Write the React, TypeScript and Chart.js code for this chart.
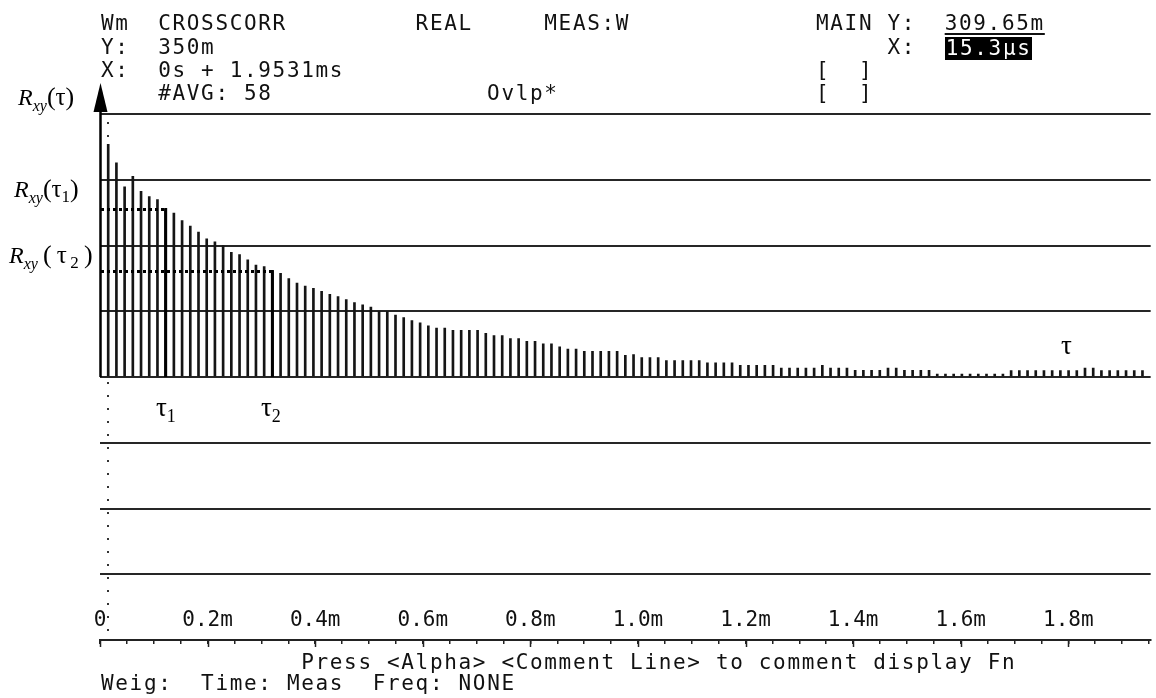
import React, { useEffect, useRef } from "react";
import { Chart, registerables } from "chart.js";

Chart.register(...registerables);

// ---------------- data ----------------
// Record: 0s + 1.9531ms, 128 lags -> 15.3 µs per lag
const RECORD_MS = 1.9531;
const LAGS_PER_RECORD = 128;
const LAG_MS = RECORD_MS / LAGS_PER_RECORD;

// Cross-correlation Rxy(τ) in milli-units, for lags 1..127
const RXY = [
  309.65, 285, 253, 267, 247, 240, 236, 223, 218, 208,
  201, 193, 184, 180, 175, 166, 163, 156, 149, 147,
  141, 138, 131, 125, 121, 118, 114, 110, 107, 103,
  99, 96, 93, 87, 87, 82.5, 79, 75, 72, 68,
  65, 65, 62, 62, 62, 62, 58, 55, 55, 51,
  51, 47.5, 47.5, 44, 44, 40, 37, 37, 34, 34,
  34, 34, 34, 29, 30, 26, 26, 26, 22, 22,
  22, 22, 22, 19, 19, 19, 19, 15.5, 15.5, 15.5,
  15.5, 15.5, 12, 12, 12, 12, 12, 15.5, 12, 12,
  12, 9, 9, 9, 9, 12, 12, 9, 9, 9,
  9, 4, 4, 4, 4, 4, 4, 4, 4, 4,
  8.5, 8.5, 8.5, 8.5, 8.5, 8.5, 8.5, 8.5, 8.5, 12,
  12, 8.5, 8.5, 8.5, 8.5, 8.5, 8.5,
];
const LAGS = RXY.map((_, i) => i + 1);

const CURSOR_LAG = 1; // MAIN X: 15.3µs
const TAU1_LAG = 8;
const TAU2_LAG = 21;

const X_TICKS = [0, 0.2, 0.4, 0.6, 0.8, 1.0, 1.2, 1.4, 1.6, 1.8];
const X_TICK_LABELS = ["0", "0.2m", "0.4m", "0.6m", "0.8m", "1.0m", "1.2m", "1.4m", "1.6m", "1.8m"];
const X_MINOR_STEP = 0.05;
const Y_MIN = -350;
const Y_MAX = 350;
const Y_STEP = 87.5;

// ---------------- styling ----------------
const HP_FONT = '"DejaVu Sans Mono", monospace';
const HP_SIZE = 21;
const CELL = 14.3;
const COL0 = 101;
const INK = "#111";

const overlayPlugin = {
  id: "overlay",
  beforeDatasetsDraw(chart: any) {
    const { ctx, chartArea, scales } = chart;
    const x = scales.x;
    const cx = Math.round(x.getPixelForValue(CURSOR_LAG * LAG_MS));
    ctx.save();
    ctx.strokeStyle = "#333";
    ctx.lineWidth = 2;
    ctx.setLineDash([2, 11]);
    ctx.beginPath();
    ctx.moveTo(cx, chartArea.top + 8);
    ctx.lineTo(cx, chartArea.bottom - 6);
    ctx.stroke();
    ctx.restore();
  },
  afterDatasetsDraw(chart: any) {
    const { ctx, chartArea, scales } = chart;
    const x = scales.x;
    const y = scales.y;
    const x0 = x.getPixelForValue(0);
    const y0 = y.getPixelForValue(0);
    ctx.save();
    ctx.fillStyle = "#000";
    ctx.strokeStyle = "#000";

    // τ markers: dotted level line + thick bar
    [TAU1_LAG, TAU2_LAG].forEach((lag) => {
      const px = x.getPixelForValue(lag * LAG_MS);
      const py = Math.round(y.getPixelForValue(RXY[lag - 1])) + 0.5;
      ctx.lineWidth = 3;
      ctx.setLineDash([3, 3]);
      ctx.beginPath();
      ctx.moveTo(x0 + 1, py);
      ctx.lineTo(px, py);
      ctx.stroke();
      ctx.setLineDash([]);
      ctx.beginPath();
      ctx.moveTo(px, py - 1.5);
      ctx.lineTo(px, y0);
      ctx.stroke();
    });

    // vertical axis with arrow
    ctx.setLineDash([]);
    ctx.lineWidth = 2.5;
    ctx.beginPath();
    ctx.moveTo(x0 + 0.5, y0);
    ctx.lineTo(x0 + 0.5, chartArea.top - 4);
    ctx.stroke();
    ctx.beginPath();
    ctx.moveTo(x0 + 0.5, chartArea.top - 31);
    ctx.lineTo(x0 - 6.5, chartArea.top - 2);
    ctx.lineTo(x0 + 7.5, chartArea.top - 2);
    ctx.closePath();
    ctx.fill();

    // longer major ticks on the ruler
    ctx.lineWidth = 1.5;
    ctx.strokeStyle = "#222";
    X_TICKS.forEach((v) => {
      const px = Math.round(x.getPixelForValue(v)) + 0.5;
      ctx.beginPath();
      ctx.moveTo(px, chartArea.bottom);
      ctx.lineTo(px, chartArea.bottom + 7);
      ctx.stroke();
    });
    ctx.restore();
  },
};

function HpText({ text, col, y, extra }: { text: string; col: number; y: number; extra?: React.CSSProperties }) {
  return (
    <div
      style={{
        position: "absolute",
        left: COL0 + col * CELL,
        top: y - 10.5,
        fontFamily: HP_FONT,
        fontSize: HP_SIZE,
        letterSpacing: `${CELL - HP_SIZE * 0.602}px`,
        lineHeight: `${HP_SIZE}px`,
        whiteSpace: "pre",
        color: INK,
        ...extra,
      }}
    >
      {text}
    </div>
  );
}

const SERIF = '"Liberation Serif", "Times New Roman", serif';

function RxyLabel({ left, top, arg, sub, spaced }: { left: number; top: number; arg: string; sub?: string; spaced?: boolean }) {
  const sp = spaced ? "\u2009" : "";
  return (
    <div style={{ position: "absolute", left, top, fontFamily: SERIF, fontSize: 24, lineHeight: "28px", whiteSpace: "pre", color: "#000" }}>
      <span style={{ fontStyle: "italic" }}>R</span>
      <span style={{ fontStyle: "italic", fontSize: 16, position: "relative", top: 6 }}>xy</span>
      <span style={{ fontSize: 26 }}>{sp}(</span>
      <span style={{ fontSize: 25 }}>{sp}{arg}</span>
      {sub ? <span style={{ fontSize: 17, position: "relative", top: 5 }}>{sp}{sub}</span> : null}
      <span style={{ fontSize: 26 }}>{sp}){sp}</span>
    </div>
  );
}

function TauLabel({ left, top, sub }: { left: number; top: number; sub?: string }) {
  return (
    <div style={{ position: "absolute", left, top, fontFamily: SERIF, fontSize: 27, lineHeight: "28px", whiteSpace: "pre", color: "#000" }}>
      <span>τ</span>
      {sub ? <span style={{ fontSize: 18, position: "relative", top: 6 }}>{sub}</span> : null}
    </div>
  );
}

export default function App() {
  const canvasRef = useRef<HTMLCanvasElement | null>(null);

  useEffect(() => {
    const canvas = canvasRef.current;
    if (!canvas) return;
    const minorTicks: number[] = [];
    for (let k = 0; k * X_MINOR_STEP <= RECORD_MS + 1e-9; k++) minorTicks.push(+(k * X_MINOR_STEP).toFixed(4));

    const chart = new Chart(canvas, {
      type: "bar",
      data: {
        datasets: [
          {
            data: LAGS.map((lag, i) => ({ x: lag * LAG_MS, y: RXY[i] })),
            backgroundColor: "#151515",
            borderWidth: 0,
            barThickness: 2,
          } as any,
        ],
      },
      plugins: [overlayPlugin],
      options: {
        responsive: false,
        animation: false,
        events: [],
        layout: { padding: { top: 114, left: 100, right: 0, bottom: 0 } },
        plugins: { legend: { display: false }, tooltip: { enabled: false }, title: { display: false } },
        scales: {
          x: {
            type: "linear",
            min: 0,
            max: RECORD_MS,
            offset: false,
            afterBuildTicks: (s: any) => {
              s.ticks = minorTicks.map((v) => ({ value: v }));
            },
            afterFit: (s: any) => {
              s.height = 58;
            },
            ticks: {
              mirror: true,
              padding: 7,
              autoSkip: false,
              maxRotation: 0,
              minRotation: 0,
              color: INK,
              font: { family: HP_FONT, size: HP_SIZE },
              callback: (value: any) => {
                const i = X_TICKS.findIndex((t) => Math.abs(t - Number(value)) < 1e-6);
                return i >= 0 ? X_TICK_LABELS[i] : "";
              },
            },
            grid: { display: true, drawOnChartArea: false, drawTicks: true, tickLength: 4, color: "#222", lineWidth: 1.5, offset: false },
            border: { display: true, color: "#222", width: 2 },
          } as any,
          y: {
            type: "linear",
            min: Y_MIN,
            max: Y_MAX,
            afterFit: (s: any) => {
              s.width = 0;
            },
            ticks: { stepSize: Y_STEP, display: false },
            grid: { color: "#262626", lineWidth: 2, drawTicks: false },
            border: { display: false },
          } as any,
        },
      } as any,
    });
    return () => chart.destroy();
  }, []);

  return (
    <div style={{ position: "absolute", left: 0, top: 0, width: 1156, height: 698, background: "#fff", overflow: "hidden" }}>
      <canvas ref={canvasRef} width={1156} height={698} style={{ display: "block", position: "absolute", left: 0, top: 0 }} />

      {/* header */}
      <HpText text="Wm" col={0} y={23.5} />
      <HpText text="CROSSCORR" col={4} y={23.5} />
      <HpText text="REAL" col={22} y={23.5} />
      <HpText text="MEAS:W" col={31} y={23.5} />
      <HpText text="MAIN Y:" col={50} y={23.5} />
      <HpText text="309.65m" col={59} y={23.5} extra={{ textDecoration: "underline", textUnderlineOffset: "3px" }} />
      <HpText text="Y:" col={0} y={47} />
      <HpText text="350m" col={4} y={47} />
      <HpText text="X:" col={55} y={47} />
      <HpText text="15.3µs" col={59} y={47} extra={{ background: "#000", color: "#fff", padding: "1px 0 1px 1px" }} />
      <HpText text="X:" col={0} y={70} />
      <HpText text="0s + 1.9531ms" col={4} y={70} />
      <HpText text="[  ]" col={50} y={70} />
      <HpText text="#AVG: 58" col={4} y={93.5} />
      <HpText text="Ovlp*" col={27} y={93.5} />
      <HpText text="[  ]" col={50} y={93.5} />

      {/* footer */}
      <HpText text="Press <Alpha> <Comment Line> to comment display Fn" col={14} y={662} />
      <HpText text="Weig:  Time: Meas  Freq: NONE" col={0} y={683} />

      {/* annotations */}
      <RxyLabel left={18} top={83} arg="τ" />
      <RxyLabel left={14} top={175} arg="τ" sub="1" />
      <RxyLabel left={9} top={241} arg="τ" sub="2" spaced />
      <TauLabel left={156} top={393} sub="1" />
      <TauLabel left={261} top={393} sub="2" />
      <TauLabel left={1061} top={331} />
    </div>
  );
}
